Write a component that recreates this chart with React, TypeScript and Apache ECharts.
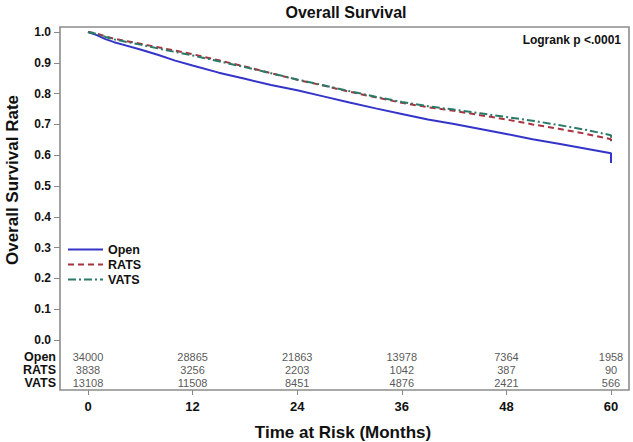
import React, { useEffect, useRef } from "react";
import * as echarts from "echarts";

const FONT = "'Liberation Sans', Arial, sans-serif";

const groups = ["Open", "RATS", "VATS"];
const xTicks = [0, 12, 24, 36, 48, 60];

const openCurve: [number, number][] = [
  [0, 1.0], [1, 0.99], [2, 0.977], [3, 0.967], [4, 0.959], [6, 0.943], [8, 0.926],
  [10, 0.907], [12, 0.891], [15, 0.868], [18, 0.848], [21, 0.828], [24, 0.811],
  [27, 0.791], [30, 0.771], [33, 0.752], [36, 0.734], [39, 0.716], [42, 0.701],
  [45, 0.685], [48, 0.669], [51, 0.652], [54, 0.637], [57, 0.622], [60, 0.606], [60, 0.575],
];
const ratsCurve: [number, number][] = [
  [0, 1.0], [1, 0.995], [2, 0.986], [3, 0.978], [6, 0.962], [9, 0.945], [12, 0.928],
  [15, 0.908], [18, 0.888], [21, 0.866], [24, 0.845], [27, 0.826], [30, 0.806],
  [33, 0.788], [36, 0.770], [39, 0.756], [42, 0.744], [45, 0.730], [48, 0.716],
  [51, 0.700], [54, 0.686], [57, 0.670], [60, 0.652], [60, 0.635],
];
const vatsCurve: [number, number][] = [
  [0, 1.0], [1, 0.994], [2, 0.984], [3, 0.976], [6, 0.959], [9, 0.941], [12, 0.924],
  [15, 0.905], [18, 0.886], [21, 0.866], [24, 0.846], [27, 0.827], [30, 0.808],
  [33, 0.790], [36, 0.773], [39, 0.759], [42, 0.748], [45, 0.736], [48, 0.724],
  [51, 0.712], [54, 0.698], [57, 0.683], [60, 0.665], [60, 0.645],
];

const openAtRisk = [34000, 28865, 21863, 13978, 7364, 1958];
const ratsAtRisk = [3838, 3256, 2203, 1042, 387, 90];
const vatsAtRisk = [13108, 11508, 8451, 4876, 2421, 566];

const colors = ["#3434c8", "#a8323e", "#2a7a68"];

export default function App() {
  const ref = useRef<HTMLDivElement>(null);
  useEffect(() => {
    if (!ref.current) return;
    const chart = echarts.init(ref.current, null, { renderer: "svg" });
    const riskRows = [openAtRisk, ratsAtRisk, vatsAtRisk];
    const riskData: any[] = [];
    riskRows.forEach((row, gi) => {
      row.forEach((n, i) => riskData.push([xTicks[i], groups[gi], n]));
    });
    const tickStyle = { color: "#888", width: 1 };
    chart.setOption({
      animation: false,
      textStyle: { fontFamily: FONT },
      grid: [
        { left: 88, right: 22, top: 32, bottom: 102 },
        { left: 88, right: 22, top: 350, height: 39 },
        { left: 60, width: 10, top: 32, bottom: 102 },
        { left: 88, right: 22, top: 380, bottom: 52 },
      ],
      legend: {
        orient: "vertical",
        left: 67,
        top: 243,
        padding: 0,
        itemWidth: 35,
        itemHeight: 10,
        itemGap: 2,
        itemStyle: { opacity: 0 },
        textStyle: { fontFamily: FONT, fontWeight: "bold", fontSize: 12.5, color: "#111" },
        data: groups,
      },
      xAxis: [
        { type: "value", gridIndex: 0, min: 0, max: 60, show: false },
        { type: "value", gridIndex: 1, min: 0, max: 60, show: false },
        { type: "value", gridIndex: 2, min: 0, max: 1, show: false },
        {
          type: "value",
          gridIndex: 3,
          min: 0,
          max: 60,
          interval: 12,
          position: "bottom",
          axisLine: { show: false },
          axisTick: { show: true, length: 5, lineStyle: tickStyle },
          axisLabel: { margin: 10, fontFamily: FONT, fontWeight: "bold", fontSize: 13, color: "#111" },
          splitLine: { show: false },
        },
      ],
      yAxis: [
        { type: "value", gridIndex: 0, min: 0, max: 1, show: false },
        {
          type: "category",
          gridIndex: 1,
          data: groups,
          inverse: true,
          offset: 28,
          axisLine: { show: false },
          axisTick: { show: false },
          axisLabel: { interval: 0, margin: 4, fontFamily: FONT, fontWeight: "bold", fontSize: 12.5, color: "#111" },
        },
        {
          type: "value",
          gridIndex: 2,
          min: 0,
          max: 1,
          interval: 0.1,
          position: "left",
          axisLine: { show: false },
          axisTick: { show: true, length: 6, lineStyle: tickStyle },
          axisLabel: {
            margin: 9,
            fontFamily: FONT,
            fontWeight: "bold",
            fontSize: 12,
            color: "#111",
            formatter: (v: number) => v.toFixed(1),
          },
          splitLine: { show: false },
        },
        { type: "value", gridIndex: 3, min: 0, max: 1, show: false },
      ],
      series: [
        {
          name: "Open",
          type: "line",
          data: openCurve,
          showSymbol: false,
          symbol: "none",
          color: colors[0],
          lineStyle: { color: colors[0], width: 2, type: "solid" },
        },
        {
          name: "RATS",
          type: "line",
          data: ratsCurve,
          showSymbol: false,
          symbol: "none",
          color: colors[1],
          lineStyle: { color: colors[1], width: 2, type: [6, 4] },
        },
        {
          name: "VATS",
          type: "line",
          data: vatsCurve,
          showSymbol: false,
          symbol: "none",
          color: colors[2],
          lineStyle: { color: colors[2], width: 2, type: [8, 3, 2, 3] },
        },
        {
          type: "scatter",
          xAxisIndex: 1,
          yAxisIndex: 1,
          data: riskData,
          symbolSize: 1,
          itemStyle: { color: "rgba(0,0,0,0)" },
          label: {
            show: true,
            position: "inside",
            formatter: (p: any) => String(p.value[2]),
            fontFamily: FONT,
            fontSize: 11,
            color: "#2a2a2a",
          },
          silent: true,
        },
      ],
      graphic: [
        {
          type: "rect",
          shape: { x: 60, y: 27, width: 569, height: 363 },
          style: { fill: "none", stroke: "#8c8c8c", lineWidth: 1.6 },
          silent: true,
        },
        {
          type: "text",
          x: 346,
          y: 12,
          style: {
            text: "Overall Survival",
            fontFamily: FONT,
            fontWeight: "bold",
            fontSize: 16,
            fill: "#111",
            align: "center",
            verticalAlign: "middle",
          },
        },
        {
          type: "text",
          x: 621,
          y: 40,
          style: {
            text: "Logrank p <.0001",
            fontFamily: FONT,
            fontWeight: "bold",
            fontSize: 12,
            fill: "#111",
            align: "right",
            verticalAlign: "middle",
          },
        },
        {
          type: "text",
          x: 12,
          y: 180,
          rotation: Math.PI / 2,
          style: {
            text: "Overall Survival Rate",
            fontFamily: FONT,
            fontWeight: "bold",
            fontSize: 17,
            fill: "#111",
            align: "center",
            verticalAlign: "middle",
          },
        },
        {
          type: "text",
          x: 343,
          y: 432,
          style: {
            text: "Time at Risk (Months)",
            fontFamily: FONT,
            fontWeight: "bold",
            fontSize: 17,
            fill: "#111",
            align: "center",
            verticalAlign: "middle",
          },
        },
      ],
    });
    return () => chart.dispose();
  }, []);
  return (
    <div
      ref={ref}
      style={{ position: "fixed", left: 0, top: 0, width: 633, height: 442, background: "#fff" }}
    />
  );
}
